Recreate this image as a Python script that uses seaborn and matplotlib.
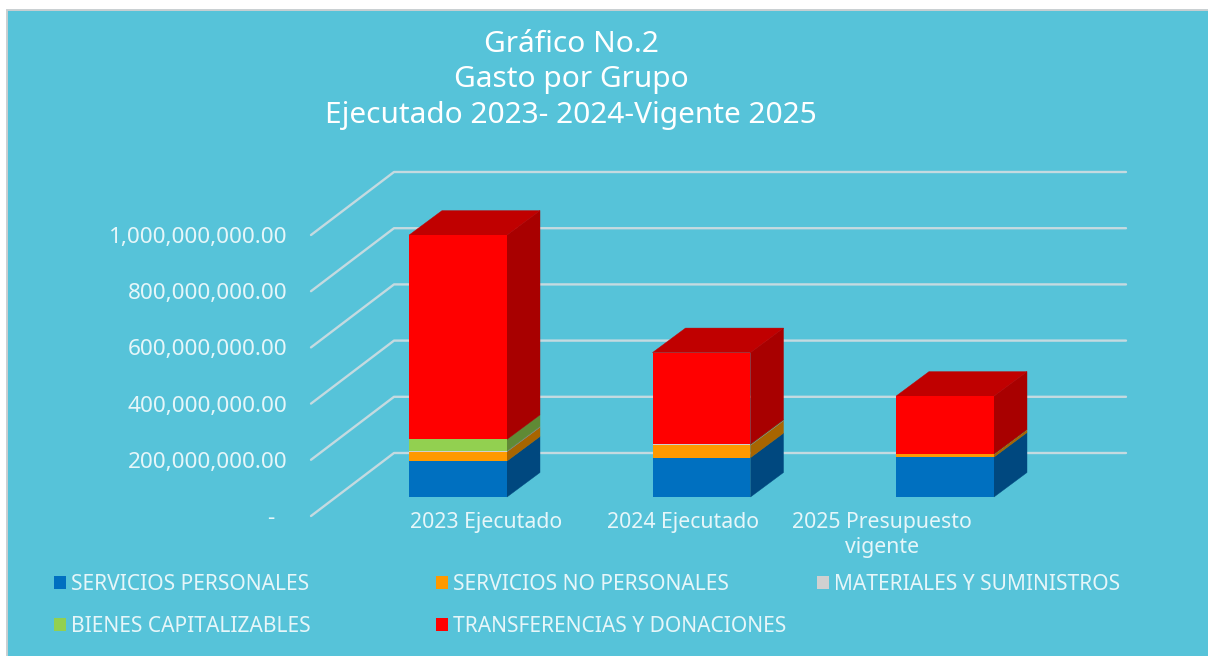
import matplotlib
matplotlib.use("Agg")
import matplotlib.pyplot as plt
from matplotlib.patches import Polygon, Rectangle
from matplotlib.ticker import FuncFormatter
import numpy as np
import seaborn as sns

categories = ["2023 Ejecutado", "2024 Ejecutado", "2025 Presupuesto\nvigente"]
series_names = ["SERVICIOS PERSONALES", "SERVICIOS NO PERSONALES", "MATERIALES Y SUMINISTROS",
                "BIENES CAPITALIZABLES", "TRANSFERENCIAS Y DONACIONES"]
servicios_personales = [128e6, 140e6, 142e6]
servicios_no_personales = [33e6, 44e6, 10e6]
materiales = [3e6, 3e6, 0.5e6]
bienes = [41e6, 1e6, 0.5e6]
transferencias = [727e6, 326e6, 206e6]
y_ticks = [0, 200e6, 400e6, 600e6, 800e6, 1000e6]
title_lines = ["Gráfico No.2", "Gasto por Grupo", "Ejecutado 2023- 2024-Vigente 2025"]

series_values = [servicios_personales, servicios_no_personales, materiales, bienes, transferencias]
front = ["#0070c0", "#ff9900", "#d0d0d0", "#92d050", "#ff0000"]
side = ["#00487f", "#a86500", "#8a8a8a", "#608a35", "#a80000"]
top_red = "#c00000"

W, H = 1208, 656
BG = "#56c3d9"
GRID = "#c4dae0"
TXT = "#e6f6f9"
FONT = ["Noto Sans", "DejaVu Sans"]

sns.set_theme(style="white")
plt.rcParams["font.family"] = FONT
plt.rcParams["font.weight"] = "light"
fig = plt.figure(figsize=(W / 100, H / 100), dpi=100, facecolor="white")
fig.add_artist(Rectangle((6.5 / W, -0.01), (W - 6.5 + 5) / W, (H - 10) / H + 0.01, transform=fig.transFigure,
                         fc=BG, ec="#c9cfd1", lw=1.4, zorder=-5))

PX_PER_UNIT = 56.2 / 200e6
TOP_VAL = 344 / PX_PER_UNIT


def make_axes(left, base, width):
    a = fig.add_axes([left / W, (H - base) / H, width / W, 344 / H])
    a.patch.set_alpha(0)
    for s in a.spines.values():
        s.set_visible(False)
    return a


# wall axes: front plane of the value axis
wall = make_axes(311, 516, 732)
wall.set_xlim(0, 732)
wall.set_ylim(0, TOP_VAL)
depth_x, depth_y = 83, 63 / PX_PER_UNIT
for v in y_ticks:
    wall.plot([0, depth_x, 815], [v, v + depth_y, v + depth_y], color=GRID, lw=1.7,
              clip_on=False, solid_joinstyle="round")
wall.set_xticks([])
wall.set_yticks(y_ticks)
wall.yaxis.set_major_formatter(FuncFormatter(lambda v, _: f"{v:,.2f}" if v else "-  "))
wall.tick_params(axis="y", length=0, pad=17, labelsize=16.2, labelcolor=TXT)

# bar axes: shifted into depth
ax = make_axes(336.25, 497, 730.5)
bottoms = np.zeros(3)
for vals, col in zip(series_values, front):
    sns.barplot(x=categories, y=vals, bottom=bottoms, color=col, saturation=1, width=0.4,
                linewidth=0, edgecolor="none", ax=ax, zorder=3)
    bottoms = bottoms + np.array(vals)
ax.set_xlim(-0.5, 2.5)
ax.set_ylim(0, TOP_VAL)

bar_hw = 49 / 243.5
dx, dy = 33 / 243.5, 24.5 / PX_PER_UNIT
bottoms = np.zeros(3)
for vals, sc in zip(series_values, side):
    for i, v in enumerate(vals):
        r, b, t = i + bar_hw, bottoms[i], bottoms[i] + v
        ax.add_patch(Polygon([(r, b), (r + dx, b + dy), (r + dx, t + dy), (r, t)],
                             fc=sc, ec=sc, lw=0.3, zorder=2.9, clip_on=False))
    bottoms = bottoms + np.array(vals)
for i, t in enumerate(bottoms):
    l, r = i - bar_hw, i + bar_hw
    ax.add_patch(Polygon([(l, t), (r, t), (r + dx, t + dy), (l + dx, t + dy)],
                         fc=top_red, ec=top_red, lw=0.3, zorder=2.9, clip_on=False))

# category labels sit left of the bars in the reference
ax.set_xticks([(486 - 458) / 243.5, (683.5 - 458) / 243.5, (882 - 458) / 243.5])
ax.set_xticklabels(categories, linespacing=1.22)
ax.set_yticks([])
ax.tick_params(axis="x", length=0, pad=11, labelsize=15.3, labelcolor=TXT)

# title
for txt, y in zip(title_lines, [45, 80, 115]):
    fig.text(571 / W, 1 - y / H, txt, ha="center", va="center", color="white", fontsize=21.5)

# legend (row-wise placement)
slots = [(54, 584), (436, 584), (817, 584), (54, 626), (436, 626)]
for name, col, (x, y) in zip(series_names, front, slots):
    fig.legend(handles=[Rectangle((0, 0), 1, 1, fc=col, ec="none")], labels=[name],
               loc="center left", bbox_to_anchor=(x / W, 1 - y / H), frameon=False,
               fontsize=15.1, labelcolor=TXT, handlelength=0.57, handleheight=0.57,
               handletextpad=0.26, borderpad=0, borderaxespad=0)

fig.savefig("out.png", dpi=100, facecolor=fig.get_facecolor())
